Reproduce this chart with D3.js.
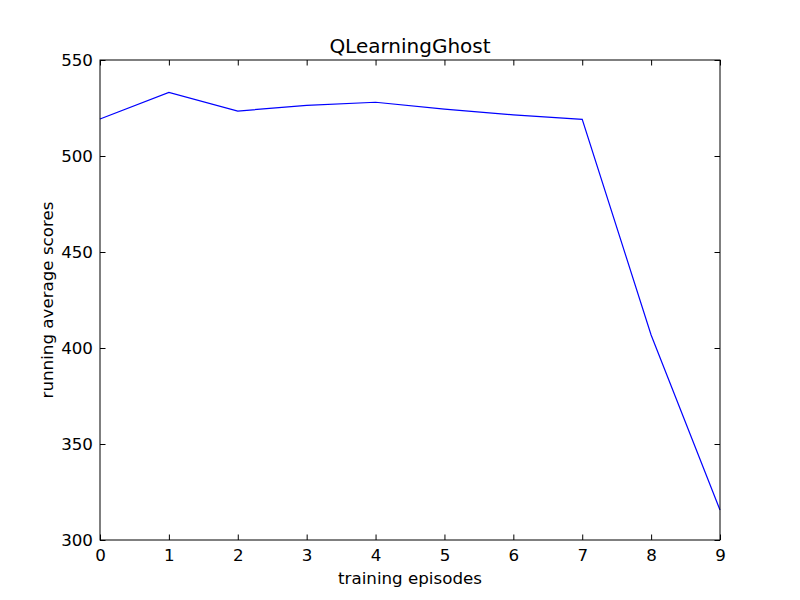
<!DOCTYPE html>
<html>
<head>
<meta charset="utf-8">
<script src="https://cdn.jsdelivr.net/npm/d3@7"></script>
<style>
  body { margin: 0; background: #fff; }
  text { font-family: "DejaVu Sans", sans-serif; }
</style>
</head>
<body>
<svg id="chart" width="800" height="600"></svg>
<script>
// data
var episodes = [0, 1, 2, 3, 4, 5, 6, 7, 8, 9];
var scores = [519.3, 533.1, 523.4, 526.4, 528.0, 524.4, 521.4, 519.1, 406.8, 315.6];
var xTicks = [0, 1, 2, 3, 4, 5, 6, 7, 8, 9];
var yTicks = [300, 350, 400, 450, 500, 550];

var svg = d3.select('#chart');
var plotLeft = 100, plotRight = 720, plotTop = 60, plotBottom = 540;

var x = d3.scaleLinear().domain([0, 9]).range([plotLeft, plotRight]);
var y = d3.scaleLinear().domain([300, 550]).range([plotBottom, plotTop]);

// the line
var line = d3.line()
    .x(function(d, i) { return x(episodes[i]); })
    .y(function(d) { return y(d); });

svg.append('path')
    .datum(scores)
    .attr('d', line)
    .attr('fill', 'none')
    .attr('stroke', '#0000ff')
    .attr('stroke-width', 1.2);

// ticks inside on all four sides (classic matplotlib)
var tl = 5.5;
svg.append('g').attr('transform', 'translate(0,' + plotBottom + ')')
    .call(d3.axisBottom(x).tickValues(xTicks).tickSizeInner(-tl).tickSizeOuter(0).tickPadding(9).tickFormat(d3.format('d')));
svg.append('g').attr('transform', 'translate(0,' + plotTop + ')')
    .call(d3.axisTop(x).tickValues(xTicks).tickSizeInner(-tl).tickSizeOuter(0).tickFormat(''));
svg.append('g').attr('transform', 'translate(' + plotLeft + ',0)')
    .call(d3.axisLeft(y).tickValues(yTicks).tickSizeInner(-tl).tickSizeOuter(0).tickPadding(7).tickFormat(d3.format('d')));
svg.append('g').attr('transform', 'translate(' + plotRight + ',0)')
    .call(d3.axisRight(y).tickValues(yTicks).tickSizeInner(-tl).tickSizeOuter(0).tickFormat(''));

svg.selectAll('.domain').remove();
svg.selectAll('.tick line').attr('stroke', '#000');
svg.selectAll('.tick text').attr('font-size', 16.7).attr('fill', '#000')
    .style('font-family', '"DejaVu Sans", sans-serif');

// frame
svg.append('rect')
    .attr('x', plotLeft).attr('y', plotTop)
    .attr('width', plotRight - plotLeft).attr('height', plotBottom - plotTop)
    .attr('fill', 'none').attr('stroke', '#000').attr('stroke-width', 1);

// labels
svg.append('text').attr('x', (plotLeft + plotRight) / 2).attr('y', 53)
    .attr('text-anchor', 'middle').attr('font-size', 20).text('QLearningGhost');
svg.append('text').attr('x', (plotLeft + plotRight) / 2).attr('y', 584)
    .attr('text-anchor', 'middle').attr('font-size', 16.7).text('training episodes');
svg.append('text')
    .attr('transform', 'translate(53,' + (plotTop + plotBottom) / 2 + ') rotate(-90)')
    .attr('text-anchor', 'middle').attr('font-size', 16.7).text('running average scores');
</script>
</body>
</html>
